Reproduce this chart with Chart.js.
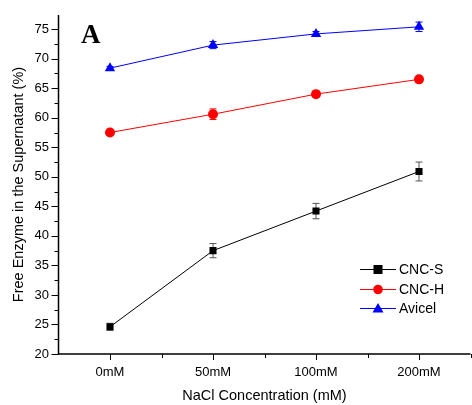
<!DOCTYPE html>
<html>
<head>
<meta charset="utf-8">
<script src="https://cdn.jsdelivr.net/npm/chart.js@4.4.1/dist/chart.umd.min.js"></script>
<style>
  html, body { margin: 0; padding: 0; background: #fff; }
  #wrap { width: 472px; height: 405px; }
</style>
</head>
<body>
<div id="wrap"><canvas id="c" width="472" height="405"></canvas></div>
<script>
// NaCl concentrations on the x axis
const categories = ['0mM', '50mM', '100mM', '200mM'];

// Free enzyme remaining in the supernatant (%), mean and error
const cncS = [24.6, 37.5, 44.2, 50.9];
const cncSErr = [0.6, 1.2, 1.3, 1.6];
const cncH = [57.5, 60.6, 64.0, 66.5];
const cncHErr = [0.3, 0.9, 0.3, 0.3];
const avicel = [68.4, 72.3, 74.2, 75.4];
const avicelErr = [0.3, 0.6, 0.4, 0.8];

const yTickLabels = [20, 25, 30, 35, 40, 45, 50, 55, 60, 65, 70, 75];

const FONT = 'Arial, "Liberation Sans", sans-serif';

function pts(values) {
  return values.map((v, i) => ({ x: i, y: v }));
}

const datasets = [
  { label: 'CNC-S', data: pts(cncS), err: cncSErr, borderColor: '#000000', backgroundColor: '#000000',
    pointStyle: 'rect', pointRadius: 5, errColor: '#555555' },
  { label: 'CNC-H', data: pts(cncH), err: cncHErr, borderColor: '#ff0000', backgroundColor: '#ff0000',
    pointStyle: 'circle', pointRadius: 5, errColor: '#ff0000' },
  { label: 'Avicel', data: pts(avicel), err: avicelErr, borderColor: '#0000ff', backgroundColor: '#0000ff',
    pointStyle: 'triangle', pointRadius: 6, errColor: '#0000ff' }
].map(d => Object.assign({ borderWidth: 1, pointBorderWidth: 0, tension: 0, order: 0 }, d));

// Error bars, axis ticks, panel letter and legend
const decor = {
  id: 'decor',
  beforeDatasetsDraw(chart) {
    const ctx = chart.ctx, xs = chart.scales.x, ys = chart.scales.y;
    ctx.save();
    chart.data.datasets.forEach(ds => {
      ctx.strokeStyle = ds.errColor;
      ctx.lineWidth = 1;
      ds.data.forEach((p, i) => {
        const x = xs.getPixelForValue(p.x);
        const y1 = ys.getPixelForValue(p.y + ds.err[i]);
        const y2 = ys.getPixelForValue(p.y - ds.err[i]);
        ctx.beginPath();
        ctx.moveTo(x, y1); ctx.lineTo(x, y2);
        ctx.moveTo(x - 3.5, y1); ctx.lineTo(x + 3.5, y1);
        ctx.moveTo(x - 3.5, y2); ctx.lineTo(x + 3.5, y2);
        ctx.stroke();
      });
    });
    ctx.restore();
  },
  afterDraw(chart) {
    const ctx = chart.ctx, xs = chart.scales.x, ys = chart.scales.y;
    const area = chart.chartArea;
    ctx.save();
    ctx.strokeStyle = '#000';
    ctx.lineWidth = 1.5;
    // axis lines
    ctx.beginPath();
    ctx.moveTo(area.left, area.top);
    ctx.lineTo(area.left, area.bottom);
    ctx.lineTo(area.right, area.bottom);
    ctx.stroke();
    // y ticks: major every 5, minor every 2.5
    ctx.lineWidth = 1;
    for (let v = 20; v <= 77.4; v += 2.5) {
      const y = Math.round(ys.getPixelForValue(v)) + 0.5;
      const len = (v % 5 === 0) ? 7 : 4;
      ctx.beginPath();
      ctx.moveTo(area.left - len, y);
      ctx.lineTo(area.left, y);
      ctx.stroke();
    }
    // x ticks: major at categories, minor between them
    for (let v = 0; v <= 3.5; v += 0.5) {
      const x = Math.round(xs.getPixelForValue(v)) + 0.5;
      const len = Number.isInteger(v) ? 6 : 4;
      ctx.beginPath();
      ctx.moveTo(x, area.bottom);
      ctx.lineTo(x, area.bottom + len);
      ctx.stroke();
    }
    // panel letter
    ctx.fillStyle = '#000';
    ctx.font = 'bold 27px "Liberation Serif", "Times New Roman", serif';
    ctx.textAlign = 'left';
    ctx.textBaseline = 'alphabetic';
    ctx.fillText('A', 81, 43);
    // legend
    const rows = [269, 289, 308];
    ctx.font = '14px ' + FONT;
    ctx.textBaseline = 'middle';
    chart.data.datasets.forEach((ds, i) => {
      const y = rows[i];
      ctx.strokeStyle = ds.borderColor;
      ctx.lineWidth = 1;
      ctx.beginPath();
      ctx.moveTo(360, y + 0.5);
      ctx.lineTo(396, y + 0.5);
      ctx.stroke();
      ctx.fillStyle = ds.backgroundColor;
      const cx = 378;
      ctx.beginPath();
      if (ds.pointStyle === 'rect') {
        ctx.rect(cx - 4.5, y - 4, 9, 9);
      } else if (ds.pointStyle === 'circle') {
        ctx.arc(cx, y + 0.5, 4.8, 0, Math.PI * 2);
      } else {
        ctx.moveTo(cx, y - 5);
        ctx.lineTo(cx + 5.5, y + 4.5);
        ctx.lineTo(cx - 5.5, y + 4.5);
        ctx.closePath();
      }
      ctx.fill();
      ctx.fillStyle = '#000';
      ctx.fillText(ds.label, 399, y + 1);
    });
    ctx.restore();
  }
};

new Chart(document.getElementById('c'), {
  type: 'line',
  data: { datasets },
  options: {
    responsive: false,
    animation: false,
    devicePixelRatio: 1,
    layout: { autoPadding: false, padding: { top: 15, right: 1.5, left: 0, bottom: 0 } },
    plugins: { legend: { display: false }, tooltip: { enabled: false } },
    scales: {
      x: {
        type: 'linear',
        min: -0.5, max: 3.5,
        border: { display: false },
        grid: { display: false, drawTicks: false },
        afterBuildTicks(scale) {
          scale.ticks = categories.map((c, i) => ({ value: i }));
        },
        afterFit(scale) {
          scale.height = 51;
          scale.paddingLeft = 0;
          scale.paddingRight = 0;
        },
        ticks: {
          padding: 11,
          color: '#000',
          font: { family: FONT, size: 13 },
          maxRotation: 0,
          callback: (v) => categories[v]
        },
        title: {
          display: true,
          text: 'NaCl Concentration (mM)',
          color: '#000',
          font: { family: FONT, size: 14.5 },
          padding: { top: 0, bottom: 0.5 }
        }
      },
      y: {
        type: 'linear',
        min: 20, max: 77.4,
        border: { display: false },
        grid: { display: false, drawTicks: false },
        afterBuildTicks(scale) {
          scale.ticks = yTickLabels.map(v => ({ value: v }));
        },
        afterFit(scale) {
          scale.width = 58.5;
          scale.paddingTop = 0;
          scale.paddingBottom = 0;
        },
        ticks: {
          padding: 9.5,
          color: '#000',
          font: { family: FONT, size: 13 }
        },
        title: {
          display: true,
          text: 'Free Enzyme in the Supernatant (%)',
          color: '#000',
          font: { family: FONT, size: 14.5 },
          padding: { top: 10, bottom: 0 }
        }
      }
    }
  },
  plugins: [decor]
});
</script>
</body>
</html>
